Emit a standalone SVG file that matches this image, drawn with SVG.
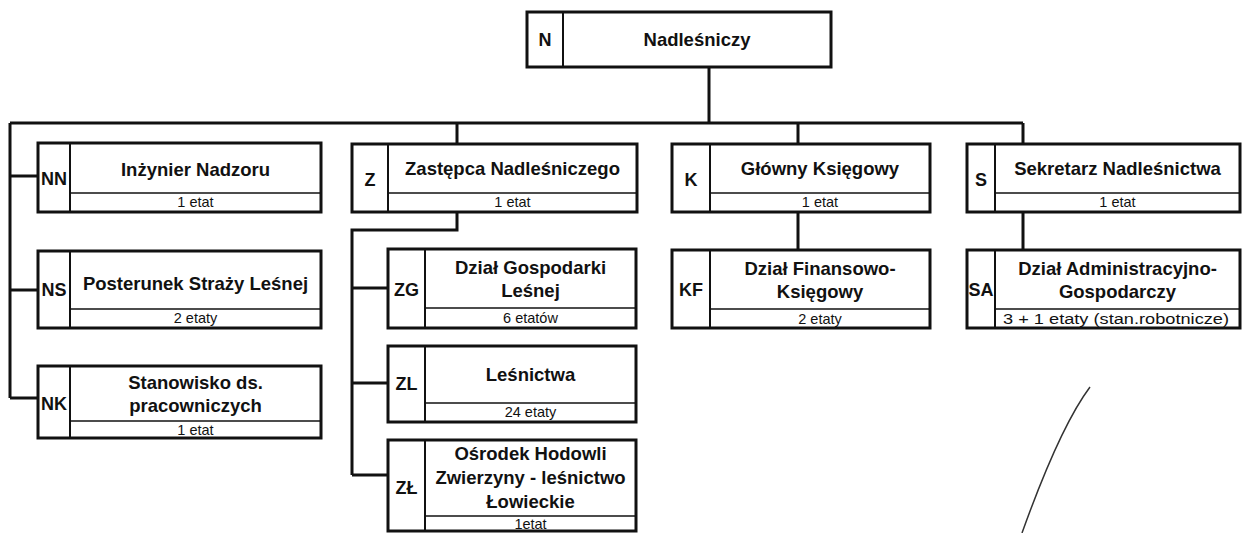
<svg xmlns="http://www.w3.org/2000/svg" width="1243" height="533" viewBox="0 0 1243 533">
<style>
.box{fill:#fff;stroke:#111;stroke-width:3}
.div{stroke:#111;stroke-width:2;fill:none}
.hl{stroke:#111;stroke-width:1.5;fill:none}
.t{font-family:"Liberation Sans",Arial,sans-serif;font-weight:bold;font-size:18.5px;fill:#111;text-anchor:middle}
.c{font-family:"Liberation Sans",Arial,sans-serif;font-weight:bold;font-size:18px;fill:#111;text-anchor:middle}
.s{font-family:"Liberation Sans",Arial,sans-serif;font-size:14.5px;fill:#111;text-anchor:middle}
.con{stroke:#111;stroke-width:3;fill:none}
</style>
<rect width="1243" height="533" fill="#fff"/>
<g id="connectors">
<path class="con" d="M709,67V123M10,123H1023M457,123V144M798,123V144M1023,123V144"/>
<path class="con" d="M10,123V398M10,176H38M10,290H38M10,398H38"/>
<path class="con" d="M457,212V230H352V475M352,288H388M352,383H388M352,475H388"/>
<path class="con" d="M798,212V250M1023,212V250"/>
</g>
<g id="N">
<rect class="box" x="527" y="12" width="304" height="55"/>
<line class="div" x1="563" y1="12" x2="563" y2="67"/>
<text class="c" x="545" y="46">N</text>
<text class="t" x="697" y="46">Nadleśniczy</text>
</g>
<g id="NN">
<rect class="box" x="38" y="143" width="283" height="69"/>
<line class="div" x1="70" y1="143" x2="70" y2="212"/>
<line class="hl" x1="70" y1="193" x2="321" y2="193"/>
<text class="c" x="54" y="185">NN</text>
<text class="t" x="195.5" y="176">Inżynier Nadzoru</text>
<text class="s" x="195.5" y="207">1 etat</text>
</g>
<g id="Z">
<rect class="box" x="352" y="144" width="285" height="68"/>
<line class="div" x1="388" y1="144" x2="388" y2="212"/>
<line class="hl" x1="388" y1="193" x2="637" y2="193"/>
<text class="c" x="370" y="186">Z</text>
<text class="t" x="512.5" y="175">Zastępca Nadleśniczego</text>
<text class="s" x="512.5" y="207">1 etat</text>
</g>
<g id="K">
<rect class="box" x="672" y="144" width="258" height="68"/>
<line class="div" x1="710" y1="144" x2="710" y2="212"/>
<line class="hl" x1="710" y1="193" x2="930" y2="193"/>
<text class="c" x="691" y="186">K</text>
<text class="t" x="820" y="175">Główny Księgowy</text>
<text class="s" x="820" y="207">1 etat</text>
</g>
<g id="S">
<rect class="box" x="967" y="144" width="273" height="68"/>
<line class="div" x1="995" y1="144" x2="995" y2="212"/>
<line class="hl" x1="995" y1="193" x2="1240" y2="193"/>
<text class="c" x="981" y="186">S</text>
<text class="t" x="1117.5" y="175">Sekretarz Nadleśnictwa</text>
<text class="s" x="1117.5" y="207">1 etat</text>
</g>
<g id="NS">
<rect class="box" x="38" y="251" width="283" height="77"/>
<line class="div" x1="70" y1="251" x2="70" y2="328"/>
<line class="hl" x1="70" y1="309" x2="321" y2="309"/>
<text class="c" x="54" y="296">NS</text>
<text class="t" x="195.5" y="290">Posterunek Straży Leśnej</text>
<text class="s" x="195.5" y="323">2 etaty</text>
</g>
<g id="NK">
<rect class="box" x="38" y="366" width="283" height="72"/>
<line class="div" x1="70" y1="366" x2="70" y2="438"/>
<line class="hl" x1="70" y1="421" x2="321" y2="421"/>
<text class="c" x="54" y="410">NK</text>
<text class="t" x="195.5" y="389">Stanowisko ds.</text>
<text class="t" x="195.5" y="412">pracowniczych</text>
<text class="s" x="195.5" y="435">1 etat</text>
</g>
<g id="ZG">
<rect class="box" x="388" y="249" width="248" height="79"/>
<line class="div" x1="425" y1="249" x2="425" y2="328"/>
<line class="hl" x1="425" y1="308" x2="636" y2="308"/>
<text class="c" x="406.5" y="296">ZG</text>
<text class="t" x="530.5" y="274">Dział Gospodarki</text>
<text class="t" x="530.5" y="297">Leśnej</text>
<text class="s" x="530.5" y="323">6 etatów</text>
</g>
<g id="ZL">
<rect class="box" x="388" y="346" width="248" height="76"/>
<line class="div" x1="425" y1="346" x2="425" y2="422"/>
<line class="hl" x1="425" y1="403" x2="636" y2="403"/>
<text class="c" x="406.5" y="390">ZL</text>
<text class="t" x="530.5" y="381">Leśnictwa</text>
<text class="s" x="530.5" y="417">24 etaty</text>
</g>
<g id="ZLow">
<rect class="box" x="388" y="440" width="248" height="91"/>
<line class="div" x1="425" y1="440" x2="425" y2="531"/>
<line class="hl" x1="425" y1="516" x2="636" y2="516"/>
<text class="c" x="406.5" y="494">ZŁ</text>
<text class="t" x="530.5" y="460">Ośrodek Hodowli</text>
<text class="t" x="530.5" y="484">Zwierzyny - leśnictwo</text>
<text class="t" x="530.5" y="508">Łowieckie</text>
<text class="s" x="530.5" y="529">1etat</text>
</g>
<g id="KF">
<rect class="box" x="672" y="250" width="258" height="78"/>
<line class="div" x1="710" y1="250" x2="710" y2="328"/>
<line class="hl" x1="710" y1="309" x2="930" y2="309"/>
<text class="c" x="691" y="296">KF</text>
<text class="t" x="820" y="275">Dział Finansowo-</text>
<text class="t" x="820" y="298">Księgowy</text>
<text class="s" x="820" y="324">2 etaty</text>
</g>
<g id="SA">
<rect class="box" x="967" y="250" width="273" height="78"/>
<line class="div" x1="995" y1="250" x2="995" y2="328"/>
<line class="hl" x1="995" y1="309" x2="1240" y2="309"/>
<text class="c" x="981" y="296">SA</text>
<text class="t" x="1117.5" y="275">Dział Administracyjno-</text>
<text class="t" x="1117.5" y="298">Gospodarczy</text>
<text class="s" x="1116" y="324" style="font-size:15.5px" textLength="226" lengthAdjust="spacingAndGlyphs">3 + 1 etaty (stan.robotnicze)</text>
</g>
<path d="M1090,387Q1060,427 1022,533" fill="none" stroke="#333" stroke-width="1.5"/>
</svg>
